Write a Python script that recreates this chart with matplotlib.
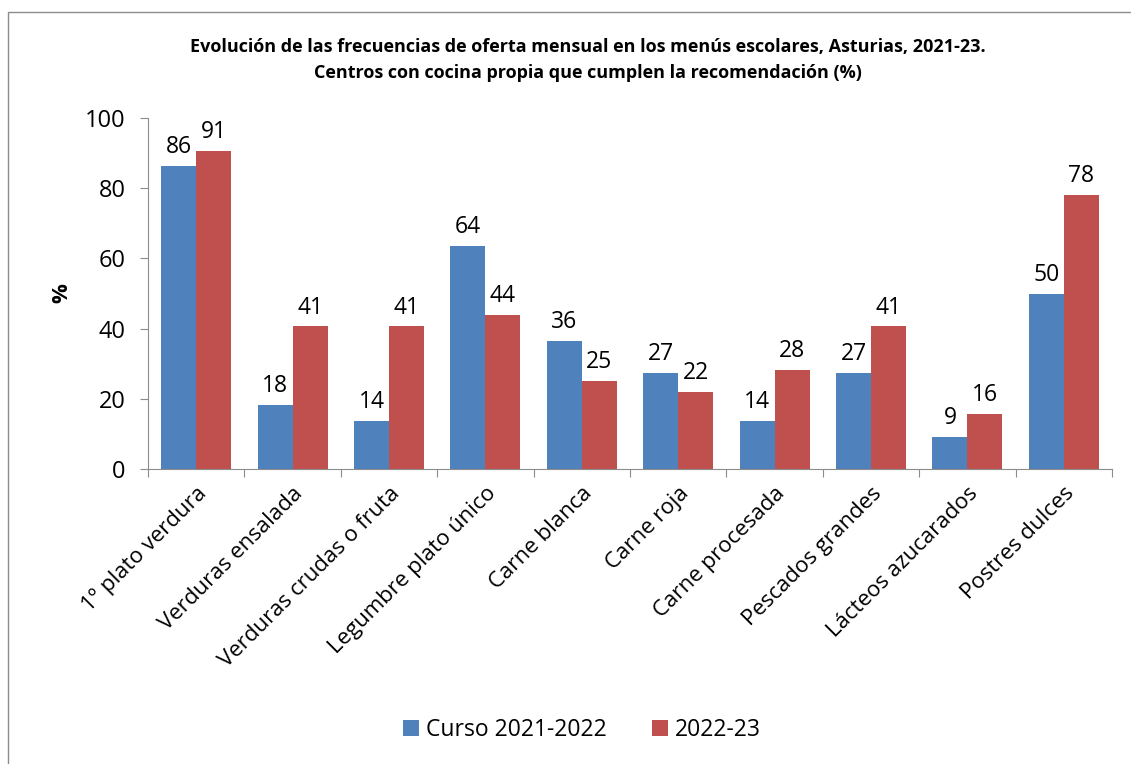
import matplotlib.pyplot as plt
import matplotlib.patches as mpatches
import numpy as np

plt.rcParams['font.family'] = ['Open Sans', 'DejaVu Sans']

categories = ['1º plato verdura', 'Verduras ensalada', 'Verduras crudas o fruta',
              'Legumbre plato único', 'Carne blanca', 'Carne roja', 'Carne procesada',
              'Pescados grandes', 'Lácteos azucarados', 'Postres dulces']
curso_2021 = [86.4, 18.2, 13.6, 63.6, 36.4, 27.3, 13.6, 27.3, 9.1, 50.0]
curso_2022 = [90.6, 40.6, 40.6, 43.75, 25.0, 21.9, 28.1, 40.6, 15.6, 78.1]

blue = '#4F81BD'
red = '#C0504D'

fig = plt.figure(figsize=(11.31, 7.64), dpi=100)
# outer chart frame
fig.patches.append(mpatches.Rectangle((8/1131, -0.05), 1.1, 1 - 12/764 + 0.05,
                                      transform=fig.transFigure, fill=False,
                                      edgecolor='#8c8c8c', lw=1))
ax = fig.add_axes([148/1131, 1 - 469/764, (1112 - 148)/1131, (469 - 118)/764])

x = np.arange(len(categories))
w = 0.363
b1 = ax.bar(x - w/2, curso_2021, w, color=blue, label='Curso 2021-2022')
b2 = ax.bar(x + w/2, curso_2022, w, color=red, label='2022-23')
for bars in (b1, b2):
    for r in bars:
        ax.annotate('%d' % round(r.get_height() + 1e-9), (r.get_x() + r.get_width()/2, r.get_height()),
                    xytext=(0, 5), textcoords='offset points', ha='center', va='bottom', fontsize=16.5)

ax.set_xlim(-0.5, len(categories) - 0.5)
ax.set_ylim(0, 100)
ax.set_yticks([0, 20, 40, 60, 80, 100])
ax.tick_params(axis='y', labelsize=17, length=6, color='#8c8c8c', direction='out', pad=10)
ax.set_xticks(np.arange(len(categories) + 1) - 0.5)
ax.set_xticklabels([])
ax.tick_params(axis='x', length=6, color='#8c8c8c', direction='out')
ax.set_xticks(x, minor=True)
ax.set_xticklabels(categories, minor=True, rotation=45, ha='right', va='top',
                   rotation_mode='anchor', fontsize=16)
ax.tick_params(axis='x', which='minor', length=0, pad=10)
for s in ('top', 'right'):
    ax.spines[s].set_visible(False)
for s in ('left', 'bottom'):
    ax.spines[s].set_color('#8c8c8c')
ax.set_ylabel('%', fontsize=16, fontweight='bold', labelpad=9)

fig.text(588/1131, 1 - 47/764, 'Evolución de las frecuencias de oferta mensual en los menús escolares, Asturias, 2021-23.',
         ha='center', va='center', fontsize=13, fontweight='bold')
fig.text(588/1131, 1 - 73/764, 'Centros con cocina propia que cumplen la recomendación (%)',
         ha='center', va='center', fontsize=13, fontweight='bold')

fig.legend(handles=[b1, b2], loc='center', bbox_to_anchor=(582/1131, 1 - 730/764), ncol=2,
           frameon=False, fontsize=16.5, handlelength=0.7, handleheight=0.7, columnspacing=2.0,
           handletextpad=0.3)

fig.savefig('out.png', dpi=100)
